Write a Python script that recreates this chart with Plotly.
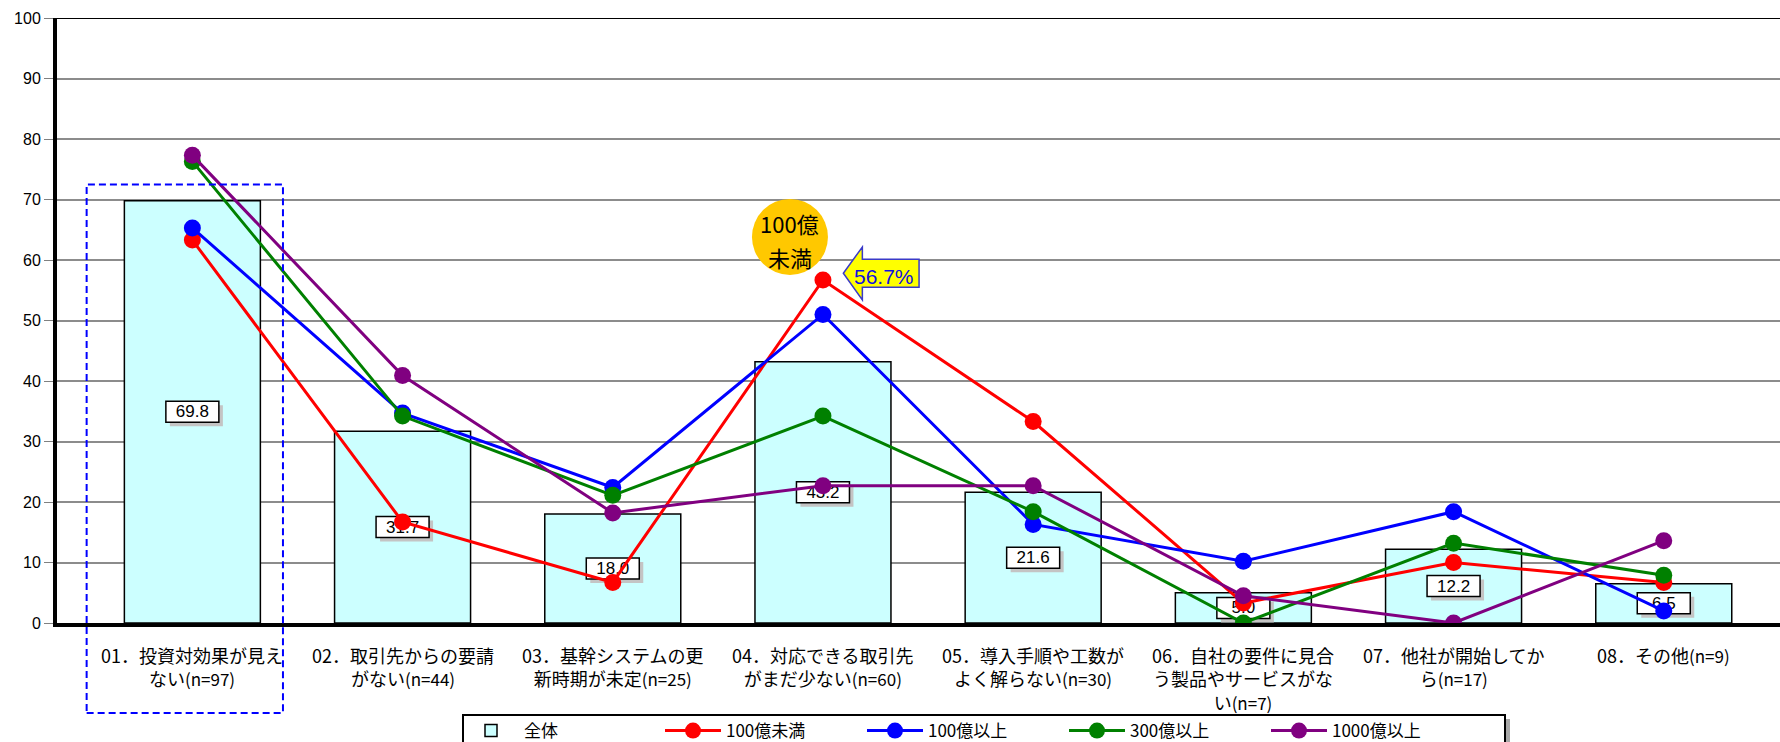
import plotly.graph_objects as go

# --- data -------------------------------------------------------------------
label_lines = [
    ["01．投資対効果が見え", "ない(n=97)"],
    ["02．取引先からの要請", "がない(n=44)"],
    ["03．基幹システムの更", "新時期が未定(n=25)"],
    ["04．対応できる取引先", "がまだ少ない(n=60)"],
    ["05．導入手順や工数が", "よく解らない(n=30)"],
    ["06．自社の要件に見合", "う製品やサービスがな", "い(n=7)"],
    ["07．他社が開始してか", "ら(n=17)"],
    ["08．その他(n=9)"],
]
overall = [69.8, 31.7, 18.0, 43.2, 21.6, 5.0, 12.2, 6.5]
under_100 = [63.3, 16.7, 6.7, 56.7, 33.3, 3.3, 10.0, 6.7]
over_100 = [65.3, 34.7, 22.4, 51.0, 16.3, 10.2, 18.4, 2.0]
over_300 = [76.3, 34.2, 21.1, 34.2, 18.4, 0.0, 13.2, 7.9]
over_1000 = [77.3, 40.9, 18.2, 22.7, 22.7, 4.5, 0.0, 13.6]

series = [
    ("100億未満", under_100, "#FF0000"),
    ("100億以上", over_100, "#0000FF"),
    ("300億以上", over_300, "#008000"),
    ("1000億以上", over_1000, "#800080"),
]
highlight_series = 0      # 100億未満
highlight_index = 3       # 04
highlight_title = ["100億", "未満"]

# --- geometry ---------------------------------------------------------------
W, H = 1780, 742
ML, MR, MT, MB = 57, 0, 18, 119
plot_w = W - ML - MR
plot_h = H - MT - MB
X_RANGE = [-0.644, 7.553]
px_per_cat = plot_w / (X_RANGE[1] - X_RANGE[0])
px_per_unit = plot_h / 100.0

JP = "Noto Sans CJK JP"
NUM = "Liberation Sans"

xs = list(range(len(overall)))

fig = go.Figure()

# overall bars
fig.add_bar(
    x=xs, y=overall, name="全体", width=0.647,
    marker=dict(color="#CCFFFF", line=dict(color="black", width=1.5)),
    hoverinfo="skip",
)

# value boxes at mid-height of each bar (shadow + framed label)
box_w = 53 / px_per_cat
box_h = 21 / px_per_unit
shadow_dx = 4 / px_per_cat
shadow_dy = 4 / px_per_unit
mids = [v / 2 for v in overall]
fig.add_bar(
    x=xs, y=[box_h] * len(xs), base=[m - box_h / 2 - shadow_dy for m in mids],
    width=box_w, offset=-box_w / 2 + shadow_dx,
    marker=dict(color="#c4c4c4", line=dict(width=0)),
    showlegend=False, hoverinfo="skip",
)
fig.add_bar(
    x=xs, y=[box_h] * len(xs), base=[m - box_h / 2 for m in mids],
    width=box_w, offset=-box_w / 2,
    marker=dict(color="white", line=dict(color="black", width=1.5)),
    text=[f"{v:.1f}" for v in overall], textposition="inside",
    insidetextanchor="middle", textangle=0, constraintext="none",
    textfont=dict(family=NUM, size=17, color="black"),
    showlegend=False, hoverinfo="skip",
)

# group lines
for name, vals, color in series:
    fig.add_scatter(
        x=xs, y=vals, name=name, mode="lines+markers",
        line=dict(color=color, width=3),
        marker=dict(color=color, size=17),
        hoverinfo="skip",
    )

# --- helpers for paper coordinates -----------------------------------------
def px_x(p):
    return (p - ML) / plot_w

def px_y(p):
    return (H - MB - p) / plot_h

def cat_to_paper(c):
    return (c - X_RANGE[0]) / (X_RANGE[1] - X_RANGE[0])

shapes = []
# frame line at the top of the value axis
shapes.append(dict(type="line", xref="paper", yref="y", x0=0, x1=1, y0=100, y1=100,
                   line=dict(color="black", width=2), layer="above"))
# dashed highlight around the first category (extends over its label)
shapes.append(dict(type="rect", xref="paper", yref="paper",
                   x0=cat_to_paper(-0.503), x1=cat_to_paper(0.431),
                   y0=px_y(713), y1=0.725,
                   line=dict(color="#0000FF", width=2, dash="7px,4px"),
                   fillcolor="rgba(0,0,0,0)", layer="above"))
# legend frame with shadow
shapes.append(dict(type="rect", xref="paper", yref="paper",
                   x0=px_x(467), x1=px_x(1510), y0=px_y(719), y1=px_y(770),
                   line=dict(width=0), fillcolor="#a8a8a8", layer="above"))
shapes.append(dict(type="rect", xref="paper", yref="paper",
                   x0=px_x(463), x1=px_x(1505), y0=px_y(715), y1=px_y(770),
                   line=dict(color="black", width=2), fillcolor="white", layer="above"))

# callout next to the highlighted point
hy = series[highlight_series][1][highlight_index]
shapes.append(dict(type="circle", xref="x", yref="y", xsizemode="pixel", ysizemode="pixel",
                   xanchor=highlight_index, yanchor=hy,
                   x0=-33 - 38, x1=-33 + 38, y0=43 - 38, y1=43 + 38,
                   fillcolor="#FFC800", line=dict(width=0), layer="above"))
arrow_pts = [(20.4, 6.7), (39.4, 33.0), (39.4, 20.7), (96.1, 20.7),
             (96.1, -7.3), (39.4, -7.3), (39.4, -20.0)]
arrow_path = "M" + " L".join(f"{a},{b}" for a, b in arrow_pts) + " Z"
shapes.append(dict(type="path", xref="x", yref="y", xsizemode="pixel", ysizemode="pixel",
                   xanchor=highlight_index, yanchor=hy, path=arrow_path,
                   fillcolor="#FFFF00", line=dict(color="#3a3ac8", width=1.5), layer="above"))

annotations = []
annotations.append(dict(x=highlight_index, y=hy, xref="x", yref="y", showarrow=False,
                        text=highlight_title[0], xshift=-33, yshift=57,
                        font=dict(family=JP, size=22, color="black")))
annotations.append(dict(x=highlight_index, y=hy, xref="x", yref="y", showarrow=False,
                        text=highlight_title[1], xshift=-33, yshift=23,
                        font=dict(family=JP, size=22, color="black")))
annotations.append(dict(x=highlight_index, y=hy, xref="x", yref="y", showarrow=False,
                        text=f"{hy:.1f}%", xshift=61, yshift=3,
                        font=dict(family=NUM, size=21, color="#1010E0")))

# category labels below the axis
for i, lines in enumerate(label_lines):
    txt = "<br>".join(
        line.replace("(", "<span style='font-size:17px'>(").replace(")", ")</span>")
        for line in lines
    )
    annotations.append(dict(x=i, y=0, xref="x", yref="paper", showarrow=False,
                            text=txt, align="center", yanchor="top", yshift=-17,
                            font=dict(family=JP, size=18, color="black")))

fig.update_layout(
    width=W, height=H,
    margin=dict(l=ML, r=MR, t=MT, b=MB, pad=0, autoexpand=False),
    paper_bgcolor="white", plot_bgcolor="white",
    barmode="overlay",
    showlegend=True,
    legend=dict(orientation="h", x=px_x(458), y=px_y(713), xanchor="left", yanchor="top",
                bgcolor="rgba(0,0,0,0)", borderwidth=0,
                font=dict(family=JP, size=17, color="black"),
                itemwidth=56, entrywidth=131, entrywidthmode="pixels",
                traceorder="normal", itemclick=False),
    xaxis=dict(range=X_RANGE, showticklabels=False, ticks="", showgrid=False,
               zeroline=False, showline=True, linecolor="black", linewidth=4,
               fixedrange=True),
    yaxis=dict(range=[0, 100], dtick=10, tick0=0, showgrid=True, gridcolor="#8c8c8c",
               gridwidth=2, zeroline=False, showline=True, linecolor="black", linewidth=4,
               ticks="outside", ticklen=9, tickcolor="#808080", tickwidth=1,
               tickfont=dict(family=NUM, size=16, color="black"), fixedrange=True),
    shapes=shapes,
    annotations=annotations,
)

fig.write_html("out.html")
